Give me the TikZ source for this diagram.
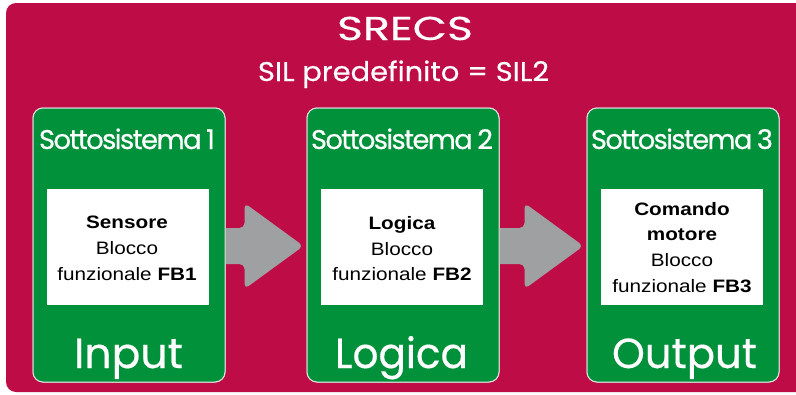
\documentclass[tikz,border=0pt]{standalone}
\usepackage{fontspec}
\setmainfont{Liberation Sans}
\newfontfamily\popfont[FakeBold=0.4]{Poppins}
\newfontfamily\poptight[LetterSpace=-6,FakeBold=0.4]{Poppins}
\usepackage{graphicx}
\usetikzlibrary{calc}
\definecolor{srred}{RGB}{190,12,70}
\definecolor{srgreen}{RGB}{0,145,58}
\definecolor{srgray}{RGB}{159,160,162}
\newcommand\wx[1]{\scalebox{1.15}[1]{#1}}
\newcommand\fitw[2]{\resizebox{#1}{\height}{#2}}
\tikzset{
  gbox/.style={draw=white!88!black, line width=1pt, fill=srgreen, rounded corners=10pt,
    minimum width=192pt, minimum height=274pt, inner sep=0pt},
  wbox/.style={fill=white, draw=none, minimum width=162pt, minimum height=116pt, inner sep=0pt},
  arrowfill/.style={fill=srgray, rounded corners=5pt},
  intext/.style={anchor=base, inner sep=0pt, font=\fontsize{18}{20}\selectfont, text=black},
  subtitle/.style={anchor=base, inner sep=0pt, text=white, font=\poptight\fontsize{27}{30}\selectfont},
  bigtext/.style={anchor=base, inner sep=0pt, text=white, font=\popfont\fontsize{42}{44}\selectfont},
}
\newcommand\grayarrow[2]{%
  \fill[arrowfill] ($(#1.east)+(-8,-17)$) -- ($(#2.west)+(-62,-17)$) -- ($(#2.west)+(-62,-42)$)
    -- ($(#2.west)+(-3,1)$) -- ($(#2.west)+(-62,44)$) -- ($(#2.west)+(-62,19)$)
    -- ($(#1.east)+(-8,19)$) -- cycle;}
\begin{document}
\begin{tikzpicture}[x=1pt,y=-1pt]
\useasboundingbox (0,0) rectangle (796,394);
\clip (0,0) rectangle (796,394);
\fill[srred, rounded corners=10pt] (6,3) rectangle (830,392);

\node[anchor=base, inner sep=0pt, text=white, font=\popfont\fontsize{33}{36}\selectfont] (title) at (405,40) {\fitw{136pt}{SRECS}};
\node[anchor=base, inner sep=0pt, text=white, font=\popfont\fontsize{27}{30}\selectfont] (sil) at (403.5,81) {\fitw{291pt}{SIL predefinito = SIL2}};

\path (129,245) coordinate (c1) (403,245) coordinate (c2) (683,245) coordinate (c3);
\node[gbox] (b1) at (c1) {};
\node[gbox] (b2) at (c2) {};
\node[gbox] (b3) at (c3) {};
\grayarrow{b1}{b2}
\grayarrow{b2}{b3}
% boxes again over the arrow shafts
\node[gbox] (b1f) at (c1) {};
\node[gbox] (b2f) at (c2) {};
\node[gbox] (b3f) at (c3) {};

\node[subtitle] (s1) at (127,149) {\fitw{176pt}{Sottosistema\,1}};
\node[subtitle] (s2) at (402,149) {\fitw{182pt}{Sottosistema\,2}};
\node[subtitle] (s3) at (682,149) {\fitw{182pt}{Sottosistema\,3}};

\node[wbox] (w1) at (128,247) {};
\node[wbox] (w2) at (402,247) {};
\node[wbox] (w3) at (682,247) {};

\node[intext] (t1a) at (127,228) {\wx{\textbf{Sensore}}};
\node[intext] (t1b) at (127,254) {\wx{Blocco}};
\node[intext] (t1c) at (127,280) {\wx{funzionale \textbf{FB1}}};

\node[intext] (t2a) at (402,229) {\wx{\textbf{Logica}}};
\node[intext] (t2b) at (402,255) {\wx{Blocco}};
\node[intext] (t2c) at (402,280) {\wx{funzionale \textbf{FB2}}};

\node[intext] (t3a) at (682,215) {\wx{\textbf{Comando}}};
\node[intext] (t3b) at (682,240) {\wx{\textbf{motore}}};
\node[intext] (t3c) at (682,266) {\wx{Blocco}};
\node[intext] (t3d) at (682,292) {\wx{funzionale \textbf{FB3}}};

\node[bigtext] (o1) at (128.5,368) {\fitw{109pt}{Input}};
\node[bigtext] (o2) at (401.5,368) {\fitw{133pt}{Logica}};
\node[bigtext] (o3) at (684.5,368) {\fitw{145pt}{Output}};
\end{tikzpicture}
\end{document}
